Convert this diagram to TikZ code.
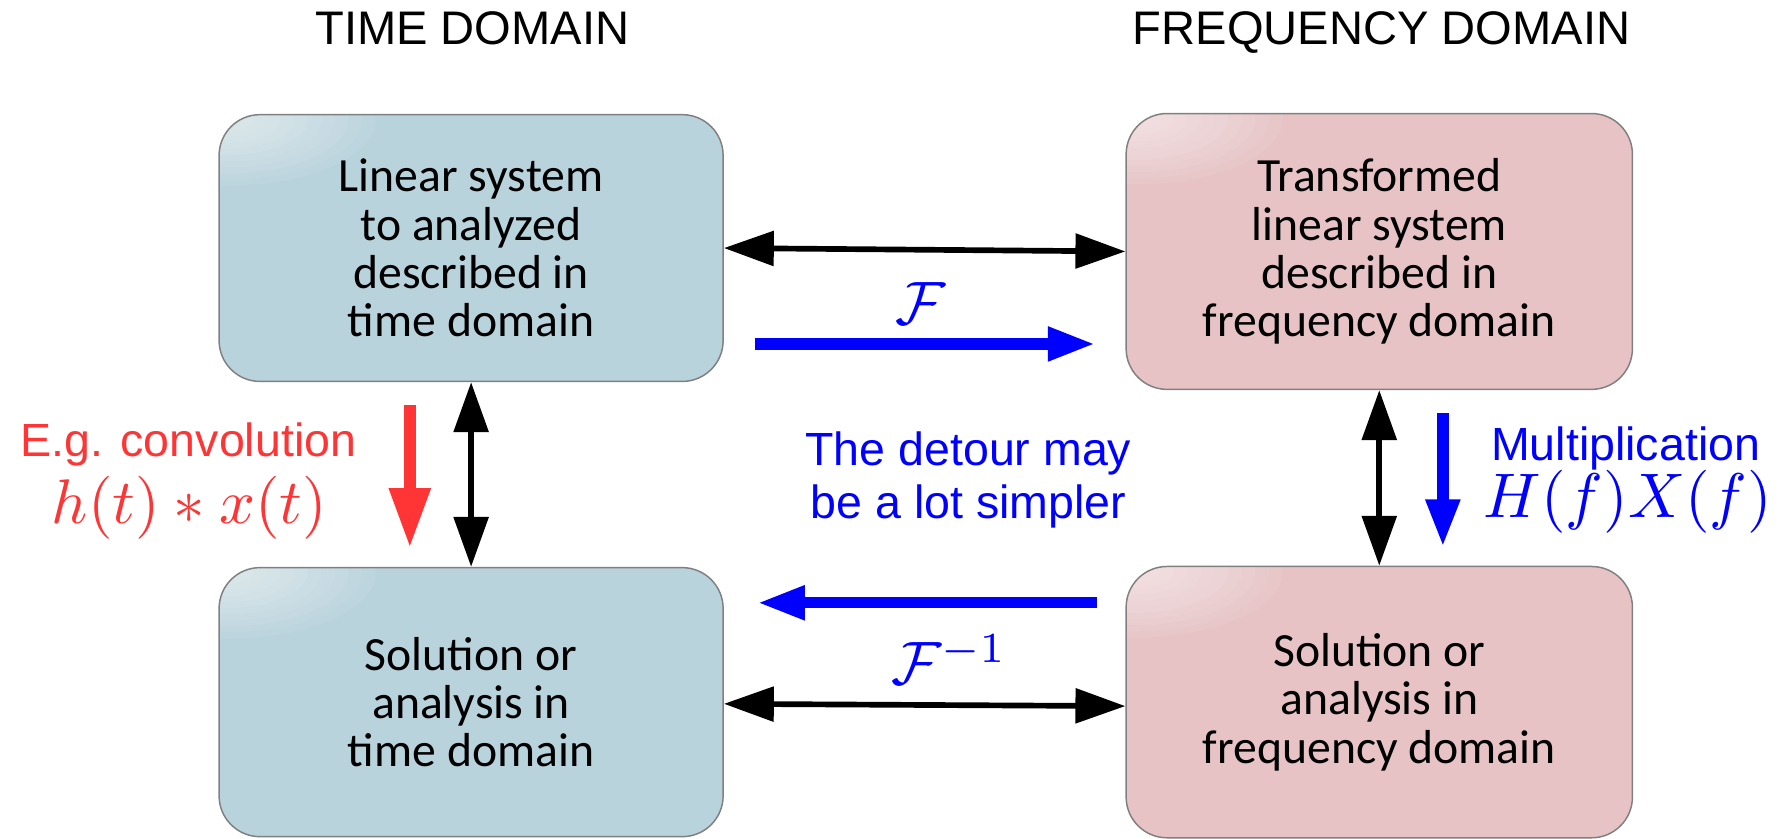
\RequirePackage{fix-cm}
\documentclass[tikz,border=0pt]{standalone}
\usepackage{graphicx}
\usepackage{fontspec}
\newfontfamily\boxfont{Carlito}
\newfontfamily\labfont{Liberation Sans}
\usetikzlibrary{arrows.meta,calc}
\definecolor{tbox}{HTML}{B9D3DC}
\definecolor{fbox}{HTML}{E7C3C6}
\definecolor{bordergray}{HTML}{808080}
\definecolor{myred}{HTML}{FF3535}
\definecolor{myblue}{HTML}{0000FF}
\tikzset{
  sheen/.style={path picture={
    \foreach \r in {130,118,...,22}{
      \fill[white, fill opacity=0.065]
        ($(path picture bounding box.north west)+(8,4)$) ellipse [x radius=\r, y radius=0.45*\r];}}},
  domainbox/.style={draw=bordergray, line width=1.3pt, rounded corners=36pt,
    inner sep=0pt, align=center, font=\boxfont\fontsize{42}{42.5}\selectfont, sheen},
  timebox/.style={domainbox, fill=tbox},
  freqbox/.style={domainbox, fill=fbox},
  title/.style={anchor=base, inner sep=0pt, font=\labfont\fontsize{41.5}{47}\selectfont},
  lab/.style={anchor=base, inner sep=0pt, align=center, font=\labfont\fontsize{41}{47}\selectfont},
  mathlab/.style={anchor=base, inner sep=0pt},
  blackdbl/.style={line width=5pt, {Triangle[length=44pt,width=30pt]}-{Triangle[length=44pt,width=30pt]}},
  bluearrow/.style={myblue, line width=10pt, -{Triangle[length=42pt,width=28pt]}},
  redarrow/.style={myred, line width=11pt, -{Triangle[length=53pt,width=34pt]}},
}
\begin{document}
\begin{tikzpicture}[x=1pt,y=-1pt]
\useasboundingbox (0,0) rectangle (1568,739);
% titles
\node[title] (tt) at (416,38.8) {TIME DOMAIN};
\node[title] (ft) at (1217,38.8) {FREQUENCY DOMAIN};
% boxes
\node[timebox, minimum width=444pt, minimum height=235pt] (TL) at (415,218.5)
  {Linear system\\to analyzed\\described in\\time domain};
\node[freqbox, minimum width=446pt, minimum height=243pt] (TR) at (1215,221.5)
  {Transformed\\linear system\\described in\\frequency domain};
\node[timebox, minimum width=444pt, minimum height=237pt] (BL) at (415,618.5)
  {Solution or\\analysis in\\time domain};
\node[freqbox, minimum width=446pt, minimum height=239pt] (BR) at (1215,618.5)
  {Solution or\\analysis in\\frequency domain};
% black double arrows
\draw[blackdbl] (TL.east) -- (TR.west);
\draw[blackdbl] ($(BL.east)+(0,1.5)$) -- ($(BR.west)+(0,3.5)$);
\draw[blackdbl] (TL.south) -- (BL.north);
\draw[blackdbl] (TR.south) -- (BR.north);
% blue and red arrows
\coordinate (fa) at (665,303);
\coordinate (fb) at (965,303);
\coordinate (ia) at (966,531);
\coordinate (ib) at (667,531);
\coordinate (ra) at (361,357);
\coordinate (rb) at (361,483);
\coordinate (ma) at (1271,364);
\coordinate (mb) at (1271,482);
\draw[bluearrow] (fa) -- (fb);
\draw[bluearrow] (ia) -- (ib);
\draw[redarrow] (ra) -- (rb);
\draw[bluearrow] (ma) -- (mb);
% labels
\node[mathlab, text=myblue] (F) at (811,286) {\scalebox{5.4}{$\mathcal{F}$}};
\node[mathlab, text=myblue] (Fi) at (836,603) {\scalebox{5.4}{$\mathcal{F}^{-1}$}};
\node[lab, text=myred] (conv) at (166,402) {E.g. convolution};
\node[mathlab, text=myred] (convm) at (167,461) {\scalebox{5.55}{$h(t)*x(t)$}};
\node[lab, text=myblue] (mult) at (1432,406) {Multiplication};
\node[mathlab, text=myblue] (multm) at (1434,456) {\scalebox{5.55}{$H(f)X(f)$}};
\node[lab, text=myblue, anchor=north] (detour) at (853,380) {The detour may\\be a lot simpler};
\end{tikzpicture}
\end{document}
